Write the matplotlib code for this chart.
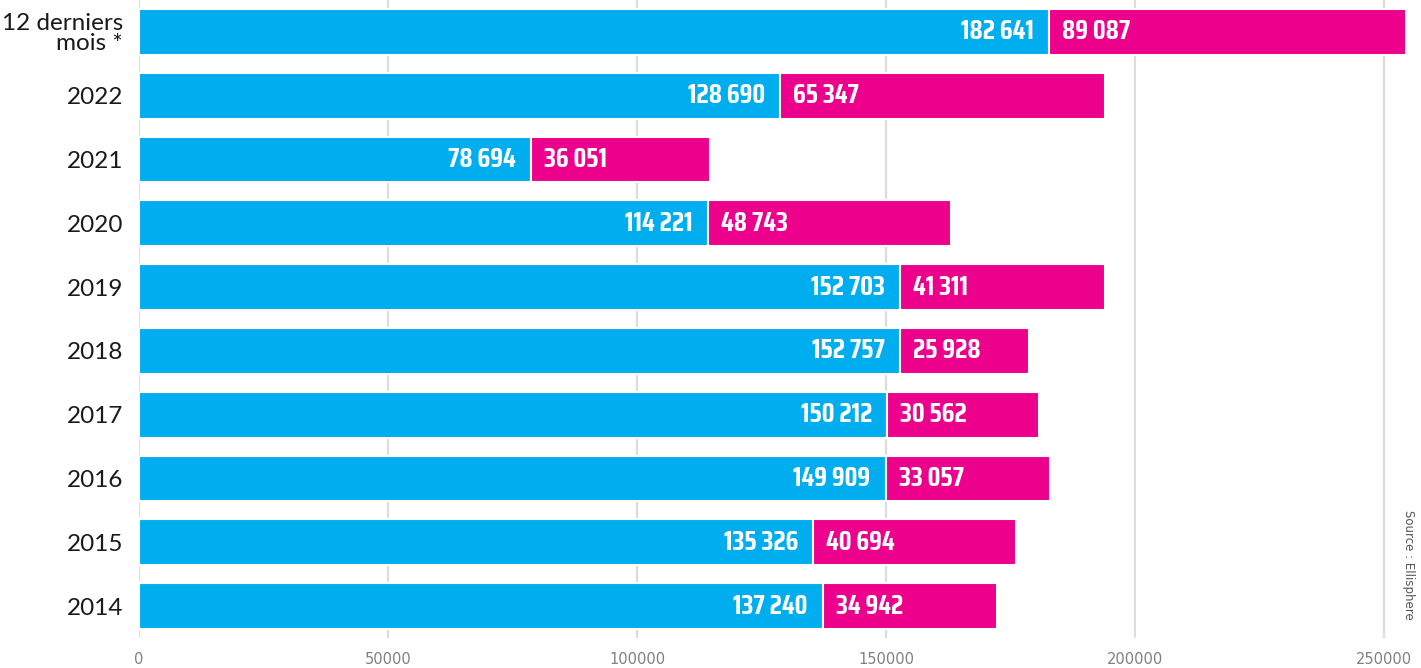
import numpy as np
import matplotlib.pyplot as plt

categories = ["12 derniers\nmois *", "2022", "2021", "2020", "2019",
              "2018", "2017", "2016", "2015", "2014"]
blue_vals = [182641, 128690, 78694, 114221, 152703,
             152757, 150212, 149909, 135326, 137240]
pink_vals = [89087, 65347, 36051, 48743, 41311,
             25928, 30562, 33057, 40694, 34942]
xticks = [0, 50000, 100000, 150000, 200000, 250000]

BLUE = "#00AEEF"
PINK = "#EC008C"


def fmt(v):
    return f"{v:,}".replace(",", " ")


fig = plt.figure(figsize=(14.21, 6.68), dpi=100)
ax = fig.add_axes([139 / 1421, 30 / 668, (1405 - 139) / 1421, 638 / 668])

y = np.arange(len(categories))
ax.barh(y, blue_vals, height=0.72, color=BLUE, edgecolor="white", linewidth=1.5, zorder=2)
ax.barh(y, pink_vals, left=blue_vals, height=0.72, color=PINK, edgecolor="white",
        linewidth=1.5, zorder=2)

lab_font = dict(family=["Saira Condensed", "DejaVu Sans"], fontweight=700,
                fontsize=19.5, color="white", va="center", zorder=3)
for yi, b, p in zip(y, blue_vals, pink_vals):
    ax.annotate(fmt(b), (b, yi), xytext=(-15, 0), textcoords="offset pixels",
                ha="right", **lab_font)
    ax.annotate(fmt(p), (b, yi), xytext=(13, 0), textcoords="offset pixels",
                ha="left", **lab_font)

ax.set_xlim(0, 254200)
ax.set_ylim(len(categories) - 0.5, -0.5)
ax.set_yticks(y)
ax.set_yticklabels(categories, fontsize=17.5, color="#1a1a1a", family="Lato",
                   linespacing=0.95)
ax.set_xticks(xticks)
ax.set_xticklabels([str(t) for t in xticks], fontsize=10.5, color="#808080")
ax.tick_params(axis="both", length=0)
ax.tick_params(axis="y", pad=11.5)
ax.tick_params(axis="x", pad=10)
ax.grid(axis="x", color="#dddddd", linewidth=1.6, zorder=0)
ax.set_axisbelow(True)
for s in ax.spines.values():
    s.set_visible(False)

fig.text(1408 / 1421, 1 - 565 / 668, "Source : Ellisphere", rotation=270,
         fontsize=8.5, color="#555555", ha="center", va="center")

fig.savefig("out.png", dpi=100)
